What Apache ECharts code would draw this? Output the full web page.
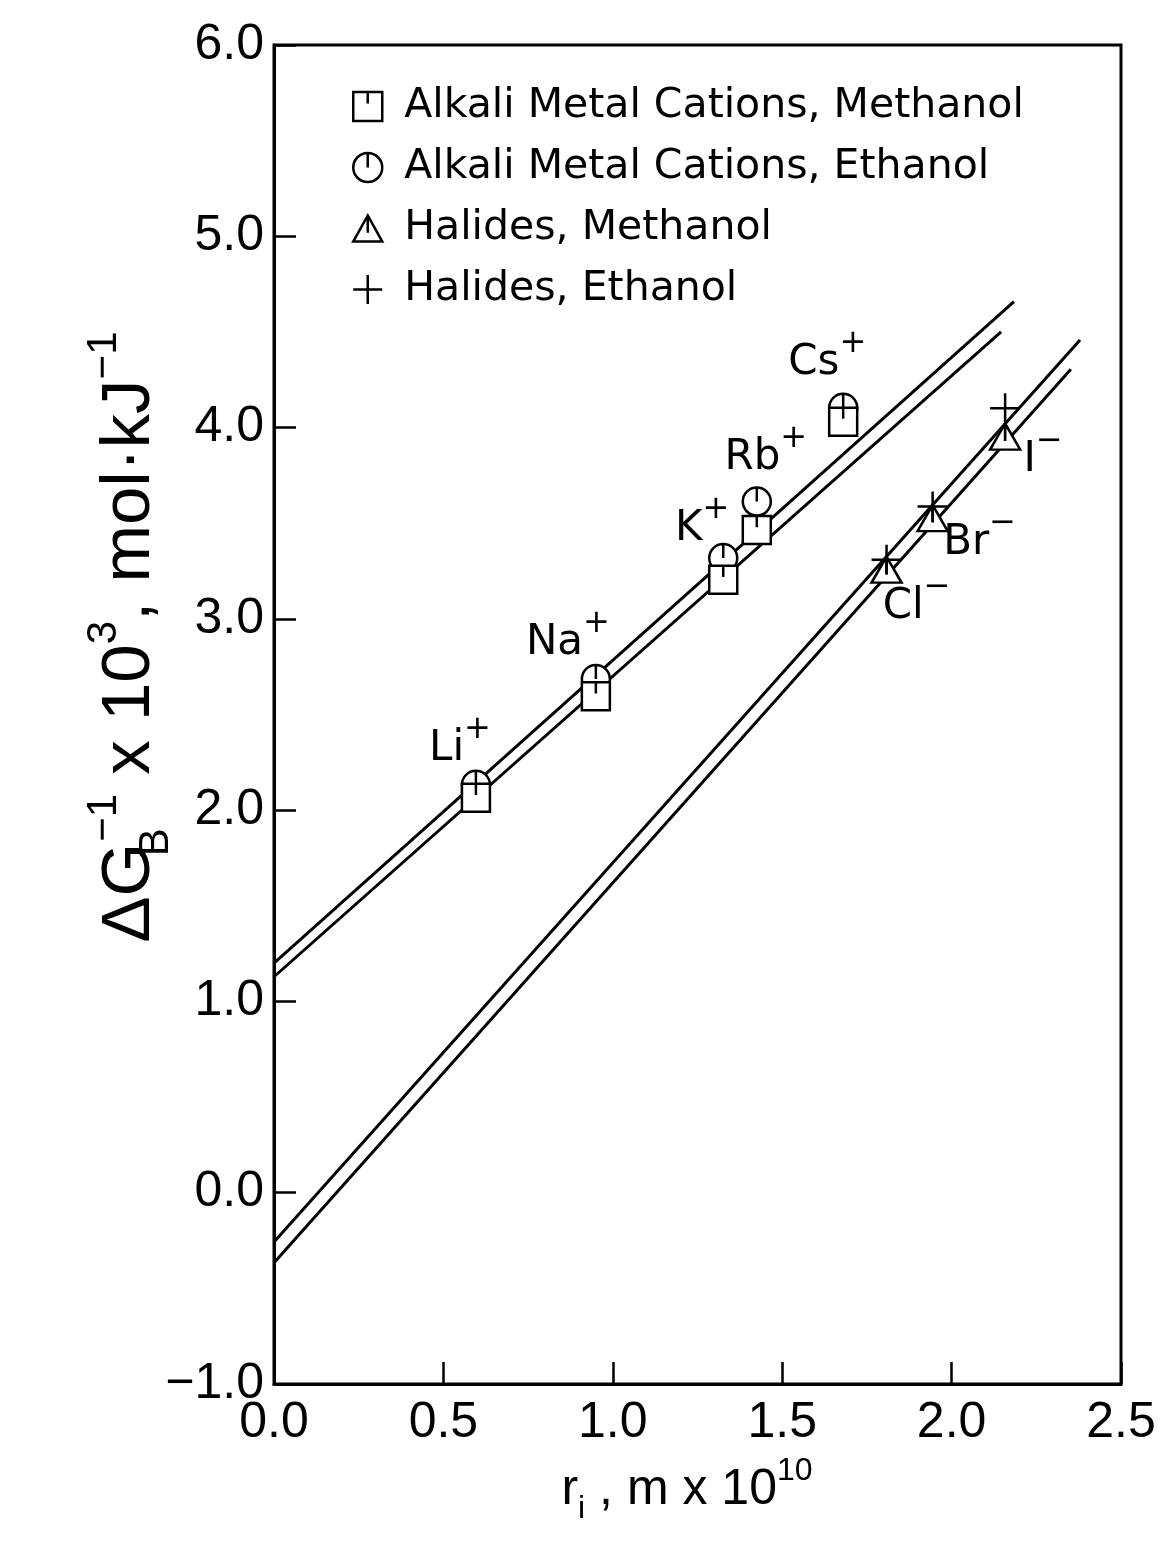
<!DOCTYPE html>
<html>
<head>
<meta charset="utf-8">
<title>Reciprocal Born free energy vs ionic radius</title>
<script src="https://cdn.jsdelivr.net/npm/echarts@6/dist/echarts.min.js"></script>
<style>
  html, body { margin: 0; padding: 0; background: #fff; }
  #chart { width: 1175px; height: 1564px; }
</style>
</head>
<body>
<div id="chart"></div>
<script>
// ---- data -------------------------------------------------------------
const cations = ['Li', 'Na', 'K', 'Rb', 'Cs'];
const cationRadius = [0.596, 0.950, 1.326, 1.425, 1.680];
const cationMethanol = [2.065, 2.595, 3.204, 3.464, 4.031];
const cationEthanol = [2.133, 2.686, 3.318, 3.613, 4.103];

const halides = ['Cl', 'Br', 'I'];
const halideRadius = [1.808, 1.944, 2.158];
const halideMethanol = [3.257, 3.527, 3.953];
const halideEthanol = [3.309, 3.587, 4.101];

// least-squares lines, given by their two end points [r_i, value]
const cationFitEthanol = [[0, 1.200], [2.184, 4.658]];
const cationFitMethanol = [[0, 1.129], [2.146, 4.500]];
const halideFitEthanol = [[0, -0.258], [2.379, 4.458]];
const halideFitMethanol = [[0, -0.366], [2.352, 4.305]];

const seriesNames = [
  'Alkali Metal Cations, Methanol',
  'Alkali Metal Cations, Ethanol',
  'Halides, Methanol',
  'Halides, Ethanol'
];

// ---- styling ----------------------------------------------------------
const INK = '#000';
const TICK_FONT = 'Liberation Sans';
const TEXT_FONT = 'DejaVu Sans';

const SQUARE = 'path://M0,0L10,0L10,10L0,10ZM5,0L5,4';
const CIRCLE = 'path://M5,0A5,5,0,1,1,5,10A5,5,0,1,1,5,0ZM5,0L5,5';
const TRIANGLE = 'path://M5,0L10,9L0,9ZM5,0L5,6';
const PLUS = 'path://M5,0L5,10M0,5L10,5';

const markerStyle = { color: '#fff', borderColor: INK, borderWidth: 2.5, opacity: 1 };

// where each ion name sits relative to its marker (px)
const ionLabelOffset = {
  Li: [-16, -43], Na: [-28, -43], K: [-21, -36], Rb: [9, -51], Cs: [-16, -52],
  Cl: [30, 30], Br: [47, 18], I: [38, 17]
};

const ionRich = {
  b: { fontSize: 42, fontFamily: TEXT_FONT, color: INK, lineHeight: 56, verticalAlign: 'bottom' },
  s: { fontSize: 32, fontFamily: TEXT_FONT, color: INK, lineHeight: 32, verticalAlign: 'top' }
};

function pairs(xs, ys) { return xs.map((x, i) => [x, ys[i]]); }

function labelled(xs, ys, names, charge) {
  return xs.map((x, i) => ({
    value: [x, ys[i]],
    label: {
      show: true,
      position: 'inside',
      align: 'center',
      verticalAlign: 'middle',
      color: INK,
      opacity: 1,
      offset: ionLabelOffset[names[i]],
      formatter: '{b|' + names[i] + '}{s|' + charge + '}',
      rich: ionRich
    }
  }));
}

function fitLine(points) {
  return {
    type: 'line', data: points, showSymbol: false, silent: true, z: 1,
    lineStyle: { color: INK, width: 3, opacity: 1 }, animation: false
  };
}

function markers(name, data, symbol, size, z) {
  return {
    type: 'scatter', name: name, data: data, symbol: symbol, symbolSize: size,
    itemStyle: markerStyle, z: z, silent: true, animation: false
  };
}

const chart = echarts.init(document.getElementById('chart'), null, { renderer: 'canvas' });

chart.setOption({
  backgroundColor: '#fff',
  animation: false,
  grid: {
    left: 274, right: 54, top: 45, bottom: 180,
    show: true, borderColor: INK, borderWidth: 3, backgroundColor: 'transparent'
  },
  xAxis: {
    type: 'value', min: 0, max: 2.5, interval: 0.5,
    axisLine: { show: true, onZero: false, lineStyle: { color: INK, width: 3 } },
    axisTick: { show: true, inside: true, length: 22, lineStyle: { color: INK, width: 2.5 } },
    axisLabel: {
      color: INK, fontFamily: TICK_FONT, fontSize: 50, margin: 14,
      formatter: v => v.toFixed(1)
    },
    splitLine: { show: false }
  },
  yAxis: {
    type: 'value', min: -1, max: 6, interval: 1,
    axisLine: { show: true, onZero: false, lineStyle: { color: INK, width: 3 } },
    axisTick: { show: true, inside: true, length: 22, lineStyle: { color: INK, width: 2.5 } },
    axisLabel: {
      color: INK, fontFamily: TICK_FONT, fontSize: 50, margin: 10,
      formatter: v => (v < 0 ? '\u2212' : '') + Math.abs(v).toFixed(1)
    },
    splitLine: { show: false }
  },
  legend: {
    orient: 'vertical', left: 347, top: 81,
    itemWidth: 29, itemHeight: 29, itemGap: 20,
    selectedMode: false,
    textStyle: { color: INK, fontFamily: TEXT_FONT, fontSize: 41, lineHeight: 28, padding: [0, 0, 0, 17] },
    itemStyle: markerStyle,
    data: seriesNames
  },
  series: [
    fitLine(cationFitEthanol),
    fitLine(cationFitMethanol),
    fitLine(halideFitEthanol),
    fitLine(halideFitMethanol),
    markers(seriesNames[1], labelled(cationRadius, cationEthanol, cations, '+'), CIRCLE, 28, 3),
    markers(seriesNames[0], pairs(cationRadius, cationMethanol), SQUARE, 28, 4),
    markers(seriesNames[2], labelled(halideRadius, halideMethanol, halides, '\u2212'), TRIANGLE, [30, 26], 3),
    markers(seriesNames[3], pairs(halideRadius, halideEthanol), PLUS, 30, 4)
  ],
  graphic: [
    {
      type: 'text', x: 130, y: 637, rotation: Math.PI / 2, silent: true,
      style: {
        text: '{b|\u0394G}{sub|B}{sup|\u22121}{b| x 10}{sup|3}{b|, mol\u00b7kJ}{sup|\u22121}',
        align: 'center', verticalAlign: 'middle', fill: INK,
        rich: {
          b: { fontSize: 69, fontFamily: TICK_FONT, fill: INK, lineHeight: 94, verticalAlign: 'middle' },
          sub: { fontSize: 42, fontFamily: TICK_FONT, fill: INK, lineHeight: 42, verticalAlign: 'bottom', width: 1 },
          sup: { fontSize: 42, fontFamily: TICK_FONT, fill: INK, lineHeight: 42, verticalAlign: 'top' }
        }
      }
    },
    {
      type: 'text', x: 687, y: 1490, silent: true,
      style: {
        text: '{b|r}{sub|i}{b| , m x 10}{sup|10}',
        align: 'center', verticalAlign: 'middle', fill: INK,
        rich: {
          b: { fontSize: 50, fontFamily: TICK_FONT, fill: INK, lineHeight: 70, verticalAlign: 'middle' },
          sub: { fontSize: 32, fontFamily: TICK_FONT, fill: INK, lineHeight: 32, verticalAlign: 'bottom' },
          sup: { fontSize: 32, fontFamily: TICK_FONT, fill: INK, lineHeight: 32, verticalAlign: 'top' }
        }
      }
    }
  ]
});
</script>
</body>
</html>
